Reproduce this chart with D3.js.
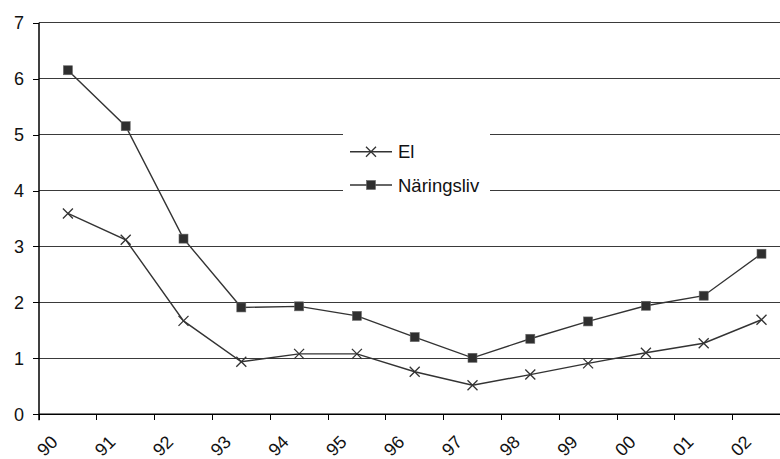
<!DOCTYPE html>
<html>
<head>
<meta charset="utf-8">
<script src="https://cdn.jsdelivr.net/npm/d3@7/dist/d3.min.js"></script>
<style>
  html, body { margin: 0; padding: 0; background: #fff; }
  svg { display: block; }
  text { font-family: "Liberation Sans", Arial, sans-serif; fill: #111; }
</style>
</head>
<body>
<svg id="chart" width="780" height="459"></svg>
<script>
const categories = ["90","91","92","93","94","95","96","97","98","99","00","01","02"];
const elValues = [3.59, 3.12, 1.67, 0.94, 1.08, 1.08, 0.76, 0.52, 0.71, 0.91, 1.10, 1.27, 1.69];
const naringslivValues = [6.15, 5.15, 3.14, 1.91, 1.93, 1.76, 1.38, 1.01, 1.35, 1.66, 1.94, 2.12, 2.87];
const yTicks = [0, 1, 2, 3, 4, 5, 6, 7];
const seriesNames = ["El", "Näringsliv"];

(function () {
const svg = d3.select("#chart");
const pLeft = 39, pTop = 22.7, pBottom = 414.3, step = 57.8;
const x = d3.scaleBand().domain(categories).range([pLeft, pLeft + step * categories.length]).padding(0);
const y = d3.scaleLinear().domain([0, 7]).range([pBottom, pTop]);
const lineColor = "#333";
const fs = 18;

// gridlines
svg.append("g").selectAll("line").data(yTicks.filter(d => d > 0)).join("line")
  .attr("x1", pLeft).attr("x2", 780)
  .attr("y1", d => y(d)).attr("y2", d => y(d))
  .attr("stroke", "#3a3a3a").attr("stroke-width", 1).attr("shape-rendering", "crispEdges");

// y axis
const yAxis = d3.axisLeft(y).tickValues(yTicks).tickSize(6).tickPadding(9).tickFormat(d3.format("d"));
const gy = svg.append("g").attr("transform", `translate(${pLeft},0)`).call(yAxis);
gy.select(".domain").attr("stroke", "#000").attr("stroke-width", 1.5).attr("d", `M0,${pTop}V${pBottom + 6}`);
gy.selectAll(".tick line").attr("stroke", "#000").attr("shape-rendering", "crispEdges");
gy.selectAll(".tick text").attr("font-size", fs).attr("fill", "#111").style("font-family", "Liberation Sans, Arial, sans-serif");

// x axis
svg.append("line").attr("x1", pLeft).attr("x2", 780).attr("y1", pBottom).attr("y2", pBottom)
  .attr("stroke", "#000").attr("stroke-width", 1.5);
const edges = categories.map(c => x(c)).concat([x(categories[categories.length - 1]) + x.bandwidth()]);
svg.append("g").selectAll("line").data(edges).join("line")
  .attr("x1", d => d).attr("x2", d => d).attr("y1", pBottom).attr("y2", pBottom + 6)
  .attr("stroke", "#000").attr("stroke-width", 1).attr("shape-rendering", "crispEdges");
svg.append("g").selectAll("text").data(categories).join("text")
  .attr("transform", d => `translate(${x(d) + x.bandwidth() / 2 - 20.5},446) rotate(-45)`)
  .attr("text-anchor", "middle").attr("dominant-baseline", "central")
  .attr("font-size", fs).text(d => d);

const cx = d => x(d) + x.bandwidth() / 2;
const line = d3.line().x(d => cx(d.c)).y(d => y(d.v));
const elData = categories.map((c, i) => ({ c, v: elValues[i] }));
const naData = categories.map((c, i) => ({ c, v: naringslivValues[i] }));

svg.append("path").datum(elData).attr("d", line).attr("fill", "none").attr("stroke", lineColor).attr("stroke-width", 1.4);
svg.append("path").datum(naData).attr("d", line).attr("fill", "none").attr("stroke", lineColor).attr("stroke-width", 1.4);

function xMarker(g, px, py) {
  const s = 5;
  g.append("path").attr("d", `M${px - s},${py - s}L${px + s},${py + s}M${px - s},${py + s}L${px + s},${py - s}`)
    .attr("stroke", lineColor).attr("stroke-width", 1.3).attr("fill", "none");
}
function sqMarker(g, px, py) {
  const s = 4.5;
  g.append("rect").attr("x", px - s).attr("y", py - s).attr("width", 2 * s).attr("height", 2 * s)
    .attr("fill", "#2f2f2f").attr("stroke", "#666").attr("stroke-width", 0.6);
}
const mk = svg.append("g");
elData.forEach(d => xMarker(mk, cx(d.c), y(d.v)));
naData.forEach(d => sqMarker(mk, cx(d.c), y(d.v)));

// legend
const lg = svg.append("g");
lg.append("rect").attr("x", 343).attr("y", 122).attr("width", 147).attr("height", 84).attr("fill", "#fff");
const legY = [151.7, 185];
seriesNames.forEach((name, i) => {
  lg.append("line").attr("x1", 350).attr("x2", 392).attr("y1", legY[i]).attr("y2", legY[i])
    .attr("stroke", lineColor).attr("stroke-width", 1.4);
  if (i === 0) xMarker(lg, 371, legY[i]); else sqMarker(lg, 371, legY[i]);
  lg.append("text").attr("x", 398).attr("y", legY[i]).attr("dominant-baseline", "central")
    .attr("font-size", 18.5).text(name);
});
})();
</script>
</body>
</html>
